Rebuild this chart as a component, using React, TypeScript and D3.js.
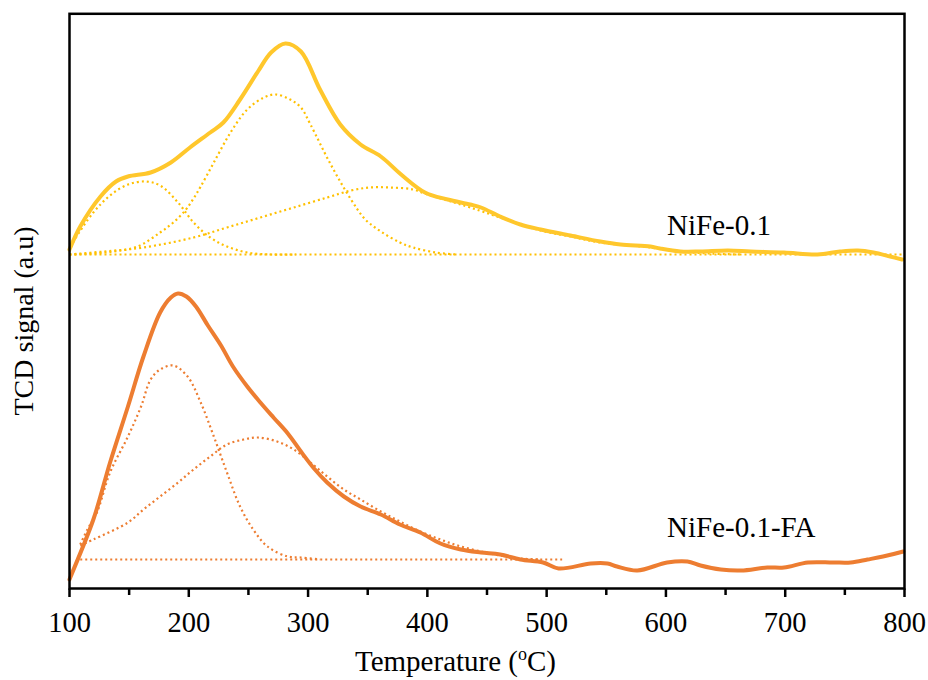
import React from "react";
import * as d3 from "d3";

// ---- Data (Temperature °C, TCD signal a.u.) ----
const xTicks = [100, 200, 300, 400, 500, 600, 700, 800];
const xMinorTicks = [150, 250, 350, 450, 550, 650, 750];

// NiFe-0.1 (measured)
const niFeT = [100, 109, 126, 139, 149, 168, 185, 201, 218, 229, 243, 258, 269, 281, 294, 310, 327, 344, 361, 378, 398, 417, 436, 445, 461, 478, 495, 520, 545, 562, 587, 595, 612, 629, 652, 671, 699, 727, 746, 761, 774, 788, 798];
const niFeV = [339, 362, 392, 407, 412, 416, 426, 441, 456, 466, 489, 517, 536, 545, 537, 499, 464, 444, 432, 414, 396, 389, 384, 381, 372, 364, 359, 353, 347, 344, 342, 340, 337, 337, 338, 337, 336, 334, 337, 338, 336, 332, 329];

// NiFe-0.1 fitted components
const niFeBaseT = [100, 800];
const niFeBaseV = [334, 334];
const niFeP1T = [100, 103, 120, 134, 149, 164, 176, 191, 204, 218, 232, 249, 269, 290];
const niFeP1V = [337, 346, 376, 393, 404, 407, 403, 386, 366, 351, 342, 336, 334, 334];
const niFeP2T = [100, 130, 157, 176, 187, 197, 204, 210, 221, 235, 249, 263, 273, 285, 294, 302, 319, 336, 348, 361, 377, 388, 407, 425];
const niFeP2V = [334, 336, 342, 356, 366, 378, 390, 402, 426, 456, 479, 491, 494, 489, 481, 464, 424, 389, 369, 357, 346, 341, 336, 334];
const niFeP3T = [100, 129, 162, 204, 232, 260, 288, 316, 336, 352, 369, 388, 400, 417, 436, 461, 495, 520, 545, 587, 612, 637, 663];
const niFeP3V = [334, 337, 341, 351, 361, 371, 381, 391, 398, 401, 401, 399, 394, 388, 381, 371, 358, 352, 346, 341, 337, 335, 334];

// NiFe-0.1-FA (measured)
const faT = [100, 101, 120, 134, 149, 162, 176, 185, 191, 198, 206, 216, 227, 237, 249, 260, 271, 283, 294, 305, 316, 330, 344, 361, 377, 394, 411, 428, 445, 461, 478, 497, 510, 537, 551, 559, 576, 601, 618, 629, 646, 663, 685, 699, 719, 740, 755, 769, 782, 799];
const faV = [9, 12, 69, 126, 182, 232, 276, 291, 295, 292, 282, 263, 243, 222, 202, 186, 171, 155, 137, 120, 106, 92, 82, 74, 64, 56, 45, 39, 36, 34, 29, 26, 20, 25, 25, 22, 18, 26, 27, 23, 19, 18, 21, 21, 26, 26, 26, 29, 32, 37];

// NiFe-0.1-FA fitted components
const faBaseT = [109, 513];
const faBaseV = [29, 29];
const faP1T = [109, 115, 123, 134, 149, 160, 168, 176, 187, 199, 210, 221, 232, 243, 254, 266, 283, 294, 310];
const faP1V = [44, 59, 76, 116, 152, 182, 209, 219, 223, 212, 186, 152, 116, 82, 59, 42, 32, 31, 29];
const faP2T = [109, 120, 149, 162, 176, 191, 204, 218, 232, 246, 258, 274, 288, 302, 316, 330, 344, 361, 377, 394, 411, 428, 445, 461, 478, 495];
const faP2V = [43, 49, 66, 79, 92, 106, 119, 132, 144, 149, 151, 147, 139, 126, 112, 99, 89, 77, 67, 57, 49, 42, 37, 33, 30, 29];

const YELLOW = "#FFC72C";
const YELLOW_DOT = "#FFC000";
const ORANGE = "#ED7D31";
const FONT = "'Times New Roman', 'Liberation Serif', serif";

const W = 928;
const H = 680;
const left = 69.5, right = 904.5, top = 13.8, bottom = 588.5;

export default function App() {
  const x = d3.scaleLinear().domain([100, 800]).range([left, right]);
  const y = d3.scaleLinear().domain([0, 574.7]).range([bottom, top]);

  const mk = (T: number[], V: number[]) =>
    d3
      .line<number>()
      .x((_, i) => x(T[i]))
      .y((v) => y(v))
      .curve(d3.curveCatmullRom.alpha(0.5))(V) || "";

  const solid = (d: string, c: string, k: string) => (
    <path key={k} d={d} fill="none" stroke={c} strokeWidth={4} strokeLinejoin="round" strokeLinecap="round" />
  );
  const dotted = (d: string, c: string, k: string) => (
    <path key={k} d={d} fill="none" stroke={c} strokeWidth={2.2} strokeDasharray="2,3" />
  );

  return (
    <svg width={W} height={H} style={{ position: "absolute", left: 0, top: 0, background: "#fff" }} fontFamily={FONT}>
      <rect x={0} y={0} width={W} height={H} fill="#fff" />
      {/* fitted components */}
      {dotted(mk(niFeBaseT, niFeBaseV), YELLOW_DOT, "yb")}
      {dotted(mk(niFeP1T, niFeP1V), YELLOW_DOT, "y1")}
      {dotted(mk(niFeP2T, niFeP2V), YELLOW_DOT, "y2")}
      {dotted(mk(niFeP3T, niFeP3V), YELLOW_DOT, "y3")}
      {dotted(mk(faBaseT, faBaseV), ORANGE, "ob")}
      {dotted(mk(faP1T, faP1V), ORANGE, "o1")}
      {dotted(mk(faP2T, faP2V), ORANGE, "o2")}
      {/* measured */}
      {solid(mk(niFeT, niFeV), YELLOW, "ys")}
      {solid(mk(faT, faV), ORANGE, "os")}

      {/* frame */}
      <rect x={left} y={top} width={right - left} height={bottom - top} fill="none" stroke="#000" strokeWidth={2.5} />
      {/* ticks */}
      {xTicks.map((t) => (
        <line key={"t" + t} x1={x(t)} x2={x(t)} y1={bottom} y2={bottom + 8.5} stroke="#000" strokeWidth={2.5} />
      ))}
      {xMinorTicks.map((t) => (
        <line key={"m" + t} x1={x(t)} x2={x(t)} y1={bottom} y2={bottom + 6.5} stroke="#000" strokeWidth={2.5} />
      ))}
      {xTicks.map((t) => (
        <text key={"l" + t} x={x(t)} y={632} textAnchor="middle" fontSize={28.5} fill="#000">
          {t}
        </text>
      ))}
      <text x={455.5} y={671} textAnchor="middle" fontSize={29} fill="#000">
        Temperature (<tspan fontSize={18} dy={-11}>o</tspan><tspan dy={11}>C)</tspan>
      </text>
      <text transform={`translate(33,321) rotate(-90)`} textAnchor="middle" fontSize={28} fill="#000">
        TCD signal (a.u)
      </text>
      <text x={667} y={235} fontSize={29} fill="#000">NiFe-0.1</text>
      <text x={667} y={537} fontSize={29} fill="#000">NiFe-0.1-FA</text>
    </svg>
  );
}
